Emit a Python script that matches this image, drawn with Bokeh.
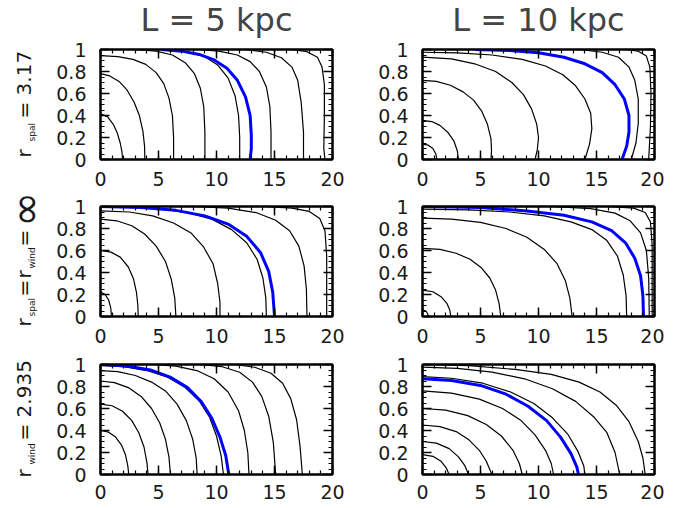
import math
from bokeh.plotting import figure
from bokeh.models import Range1d, FixedTicker, LinearAxis, Label
from bokeh.layouts import row, column
from bokeh.embed import file_html
from bokeh.resources import INLINE

# ---------------- data ----------------
X_TICKS = [0, 5, 10, 15, 20]
X_TICK_LABELS = ["0", "5", "10", "15", "20"]
Y_TICKS = [0, 0.2, 0.4, 0.6, 0.8, 1]
Y_TICK_LABELS = ["0", "0.2", "0.4", "0.6", "0.8", "1"]
COL_TITLES = ["L = 5 kpc", "L = 10 kpc"]

# Panel A: L = 5 kpc, r_spal = 3.17
A_X = [
    [0, 0.6, 1.1, 1.45, 1.7, 1.85, 1.9],
    [0, 0.8, 1.6, 2.3, 2.9, 3.35, 3.65, 3.8, 3.82],
    [0, 1.5, 2.8, 3.9, 4.8, 5.45, 5.9, 6.2, 6.3, 6.3],
    [3.0, 4.8, 6.2, 7.3, 8.1, 8.6, 8.9, 9.0, 9.0],
    [5.2, 7.3, 8.9, 10.1, 11.0, 11.6, 11.9, 12.0, 12.0],
    [8.3, 10.2, 11.8, 12.9, 13.7, 14.3, 14.6, 14.7, 14.7],
    [12.5, 14.3, 15.6, 16.5, 17.0, 17.3, 17.5, 17.5],
    [16.5, 17.8, 18.7, 19.1, 19.3, 19.3, 19.25, 19.35],
]
A_Y = [
    [0.415, 0.39, 0.32, 0.24, 0.15, 0.07, 0.0],
    [0.78, 0.76, 0.71, 0.63, 0.52, 0.40, 0.26, 0.12, 0.0],
    [0.945, 0.935, 0.91, 0.865, 0.79, 0.69, 0.56, 0.40, 0.2, 0.0],
    [1.0, 0.985, 0.95, 0.88, 0.78, 0.65, 0.48, 0.25, 0.0],
    [1.0, 0.98, 0.94, 0.86, 0.74, 0.58, 0.40, 0.2, 0.0],
    [1.0, 0.985, 0.95, 0.89, 0.80, 0.66, 0.48, 0.25, 0.0],
    [1.0, 0.975, 0.925, 0.84, 0.72, 0.52, 0.25, 0.0],
    [1.0, 0.98, 0.93, 0.84, 0.68, 0.4, 0.1, 0.0],
]
A_BLUE_X = [5.26, 7.0, 8.5, 9.8, 10.9, 11.8, 12.5, 12.9, 13.0, 13.0, 12.9]
A_BLUE_Y = [1.0, 0.985, 0.955, 0.905, 0.83, 0.72, 0.57, 0.40, 0.22, 0.1, 0.0]

# Panel B: L = 10 kpc, r_spal = 3.17
B_X = [
    [0, 0.5, 0.9, 1.15, 1.24],
    [0, 0.8, 1.5, 2.2, 2.7, 3.0, 3.1],
    [0, 1.2, 2.4, 3.5, 4.4, 5.1, 5.6, 5.9, 5.95, 5.9],
    [0, 2.5, 4.5, 6.3, 7.7, 8.7, 9.4, 9.85, 10.0, 9.9, 9.7],
    [0, 3.0, 6.0, 8.6, 10.6, 12.1, 13.2, 14.0, 14.5, 14.6, 14.4, 14.0],
    [13.5, 15.5, 16.9, 17.8, 18.3, 18.6, 18.6, 18.4, 18.0],
    [17.5, 18.6, 19.3, 19.6, 19.7, 19.65, 19.5],
]
B_Y = [
    [0.14, 0.13, 0.10, 0.05, 0.0],
    [0.355, 0.345, 0.31, 0.245, 0.17, 0.08, 0.0],
    [0.72, 0.71, 0.675, 0.615, 0.54, 0.44, 0.32, 0.19, 0.08, 0.0],
    [0.93, 0.915, 0.87, 0.80, 0.70, 0.59, 0.46, 0.32, 0.2, 0.09, 0.0],
    [0.975, 0.97, 0.95, 0.91, 0.85, 0.77, 0.67, 0.55, 0.42, 0.28, 0.14, 0.0],
    [1.0, 0.975, 0.93, 0.84, 0.72, 0.55, 0.33, 0.15, 0.0],
    [1.0, 0.985, 0.94, 0.84, 0.6, 0.3, 0.0],
]
B_BLUE_X = [4.5, 7.5, 10.0, 12.2, 14.0, 15.5, 16.6, 17.4, 17.8, 17.8, 17.6, 17.2]
B_BLUE_Y = [1.0, 0.99, 0.97, 0.93, 0.87, 0.79, 0.68, 0.55, 0.40, 0.25, 0.12, 0.0]

# Panel C: L = 5 kpc, r_spal = r_wind = infinity
C_X = [
    [0, 0.4, 0.7, 0.88, 0.95],
    [0, 0.9, 1.7, 2.4, 2.85, 3.1, 3.22, 3.25],
    [0, 1.4, 2.7, 3.8, 4.8, 5.6, 6.1, 6.4, 6.5],
    [0, 2.5, 4.5, 6.3, 7.8, 8.9, 9.7, 10.1, 10.3, 10.3],
    [2.0, 5.0, 7.5, 9.6, 11.3, 12.6, 13.5, 14.0, 14.25, 14.3],
    [8.0, 11.0, 13.4, 15.1, 16.3, 17.1, 17.55, 17.75, 17.8],
    [14.0, 16.5, 18.0, 18.9, 19.35, 19.5, 19.5],
]
C_Y = [
    [0.224, 0.20, 0.15, 0.08, 0.0],
    [0.60, 0.585, 0.54, 0.45, 0.34, 0.22, 0.1, 0.0],
    [0.885, 0.87, 0.825, 0.75, 0.64, 0.50, 0.34, 0.17, 0.0],
    [0.96, 0.95, 0.915, 0.85, 0.76, 0.63, 0.48, 0.30, 0.13, 0.0],
    [1.0, 0.98, 0.945, 0.885, 0.79, 0.67, 0.52, 0.35, 0.17, 0.0],
    [1.0, 0.985, 0.945, 0.875, 0.78, 0.64, 0.46, 0.25, 0.0],
    [1.0, 0.985, 0.955, 0.89, 0.78, 0.55, 0.0],
]
C_BLUE_X = [0, 3.5, 6.5, 9.0, 11.0, 12.6, 13.8, 14.5, 14.85, 15.0]
C_BLUE_Y = [1.0, 0.99, 0.965, 0.915, 0.84, 0.73, 0.58, 0.41, 0.22, 0.0]

# Panel D: L = 10 kpc, r_spal = r_wind = infinity
D_X = [
    [0, 0.3, 0.45, 0.5],
    [0, 0.9, 1.6, 2.1, 2.35, 2.44],
    [0, 1.5, 2.9, 4.1, 5.1, 5.8, 6.3, 6.6, 6.75],
    [0, 2.5, 5.0, 7.2, 9.0, 10.5, 11.6, 12.3, 12.7, 12.9],
    [0, 4.0, 7.5, 10.5, 12.8, 14.6, 15.9, 16.8, 17.3, 17.55, 17.6],
    [11.0, 14.5, 16.6, 17.9, 18.8, 19.3, 19.5, 19.55],
    [16.0, 18.2, 19.2, 19.65, 19.8, 19.8],
]
D_Y = [
    [0.06, 0.05, 0.025, 0.0],
    [0.24, 0.225, 0.18, 0.12, 0.06, 0.0],
    [0.62, 0.61, 0.575, 0.52, 0.44, 0.35, 0.24, 0.12, 0.0],
    [0.894, 0.885, 0.855, 0.80, 0.72, 0.61, 0.48, 0.33, 0.17, 0.0],
    [0.976, 0.97, 0.95, 0.915, 0.86, 0.79, 0.69, 0.55, 0.38, 0.19, 0.0],
    [1.0, 0.98, 0.94, 0.87, 0.76, 0.60, 0.35, 0.0],
    [1.0, 0.985, 0.945, 0.86, 0.65, 0.0],
]
D_BLUE_X = [0, 5.0, 9.0, 12.2, 14.6, 16.3, 17.5, 18.3, 18.8, 19.0, 19.05]
D_BLUE_Y = [1.0, 0.99, 0.96, 0.92, 0.86, 0.78, 0.67, 0.53, 0.37, 0.19, 0.0]

# Panel E: L = 5 kpc, r_wind = 2.935
E_X = [
    [0, 0.7, 1.3, 1.8, 2.15, 2.35, 2.44],
    [0, 1.0, 1.9, 2.7, 3.3, 3.75, 4.0, 4.1],
    [0, 1.2, 2.4, 3.5, 4.4, 5.1, 5.6, 5.9, 6.03],
    [0, 1.5, 3.0, 4.4, 5.6, 6.6, 7.4, 7.95, 8.25, 8.33],
    [0, 2.0, 4.0, 5.8, 7.3, 8.5, 9.4, 10.0, 10.4, 10.6],
    [4.5, 6.5, 8.3, 9.8, 11.0, 11.9, 12.4, 12.7, 12.8],
    [8.5, 10.5, 12.0, 13.1, 13.9, 14.5, 14.9, 15.1],
    [11.5, 13.3, 14.7, 15.7, 16.4, 16.9, 17.2, 17.4],
]
E_Y = [
    [0.40, 0.385, 0.34, 0.27, 0.18, 0.08, 0.0],
    [0.64, 0.625, 0.575, 0.49, 0.38, 0.25, 0.11, 0.0],
    [0.85, 0.835, 0.79, 0.71, 0.60, 0.47, 0.32, 0.16, 0.0],
    [0.945, 0.935, 0.90, 0.84, 0.76, 0.64, 0.49, 0.32, 0.15, 0.0],
    [0.99, 0.98, 0.945, 0.885, 0.79, 0.67, 0.52, 0.35, 0.17, 0.0],
    [1.0, 0.985, 0.945, 0.87, 0.75, 0.58, 0.40, 0.2, 0.0],
    [1.0, 0.98, 0.93, 0.84, 0.71, 0.53, 0.29, 0.0],
    [1.0, 0.975, 0.92, 0.83, 0.69, 0.50, 0.26, 0.0],
]
E_BLUE_X = [0.37, 2.4, 4.3, 6.0, 7.5, 8.7, 9.6, 10.3, 10.8, 11.06]
E_BLUE_Y = [1.0, 0.985, 0.95, 0.885, 0.79, 0.66, 0.51, 0.34, 0.17, 0.0]

# Panel F: L = 10 kpc, r_wind = 2.935
F_X = [
    [0, 0.9, 1.6, 2.05, 2.3],
    [0, 1.2, 2.3, 3.1, 3.65, 3.97],
    [0, 1.5, 2.9, 4.0, 4.9, 5.5, 5.98],
    [0, 2.0, 3.9, 5.5, 6.8, 7.8, 8.35, 8.6],
    [0, 2.5, 4.9, 6.9, 8.5, 9.7, 10.6, 11.1, 11.3],
    [0, 2.5, 5.2, 7.6, 9.6, 11.2, 12.5, 13.4, 13.9, 14.0],
    [0, 3.0, 6.0, 8.8, 11.2, 13.2, 14.8, 15.9, 16.6, 17.0],
    [0, 4.0, 8.0, 11.1, 13.5, 15.3, 16.7, 17.8, 18.6, 19.0, 19.2],
]
F_Y = [
    [0.18, 0.165, 0.12, 0.06, 0.0],
    [0.30, 0.285, 0.235, 0.16, 0.08, 0.0],
    [0.45, 0.435, 0.39, 0.315, 0.22, 0.12, 0.0],
    [0.60, 0.585, 0.535, 0.455, 0.35, 0.22, 0.10, 0.0],
    [0.76, 0.74, 0.685, 0.60, 0.49, 0.36, 0.22, 0.1, 0.0],
    [0.89, 0.875, 0.83, 0.75, 0.645, 0.515, 0.37, 0.21, 0.08, 0.0],
    [0.976, 0.965, 0.93, 0.87, 0.78, 0.665, 0.52, 0.38, 0.2, 0.0],
    [1.0, 0.99, 0.955, 0.91, 0.84, 0.75, 0.63, 0.48, 0.3, 0.15, 0.0],
]
F_BLUE_X = [0, 2.5, 5.0, 7.2, 9.1, 10.7, 11.9, 12.8, 13.3, 13.45]
F_BLUE_Y = [0.87, 0.855, 0.81, 0.73, 0.62, 0.49, 0.34, 0.19, 0.07, 0.0]

# ---------------- styling / layout ----------------
FONT = "DejaVu Sans"
TXT = "#1a1a1a"
FRAME_W, FRAME_H = 232, 110


def style_axis(ax, ticks, labels, minor, show_labels, standoff=0):
    ax.ticker = FixedTicker(ticks=ticks, minor_ticks=minor)
    ax.major_tick_in = 9
    ax.major_tick_out = 0
    ax.minor_tick_in = 4
    ax.minor_tick_out = 0
    ax.major_tick_line_width = 1.5
    ax.minor_tick_line_width = 1.2
    ax.major_tick_line_color = "black"
    ax.minor_tick_line_color = "black"
    ax.axis_line_width = 2
    ax.axis_line_color = "black"
    ax.major_label_standoff = standoff
    if show_labels:
        ax.major_label_overrides = {t: l for t, l in zip(ticks, labels)}
        ax.major_label_text_font = FONT
        ax.major_label_text_font_size = "19px"
        ax.major_label_text_color = TXT
    else:
        ax.major_label_overrides = {t: "" for t in ticks}
        ax.major_label_text_font_size = "1px"


def panel(xs, ys, bx, by, top, bottom, left, right, xstand):
    p = figure(frame_width=FRAME_W, frame_height=FRAME_H,
               x_range=Range1d(0, 20), y_range=Range1d(0, 1),
               output_backend="svg", toolbar_location=None,
               min_border_top=top, min_border_bottom=bottom,
               min_border_left=left, min_border_right=right)
    p.xgrid.visible = False
    p.ygrid.visible = False
    p.outline_line_color = "black"
    p.outline_line_width = 2
    p.background_fill_color = "white"
    p.border_fill_color = "white"
    xminor = list(range(0, 21))
    yminor = [i * 0.05 for i in range(21)]
    style_axis(p.xaxis[0], X_TICKS, X_TICK_LABELS, xminor, True, xstand)
    style_axis(p.yaxis[0], Y_TICKS, Y_TICK_LABELS, yminor, True, 14)
    top_ax = LinearAxis()
    style_axis(top_ax, X_TICKS, X_TICK_LABELS, xminor, False)
    p.add_layout(top_ax, "above")
    right_ax = LinearAxis()
    style_axis(right_ax, Y_TICKS, Y_TICK_LABELS, yminor, False)
    p.add_layout(right_ax, "right")

    p.multi_line(xs=xs, ys=ys, line_color="black", line_width=1.2)
    p.line(bx, by, line_color="#0000ff", line_width=3)
    return p


SIDE_W = 52
LW = 48   # left border, left column
RW = 70   # left border, right column
TITLE_H = 38

pA = panel(A_X, A_Y, A_BLUE_X, A_BLUE_Y, 11, 35, LW, 20, 12)
pB = panel(B_X, B_Y, B_BLUE_X, B_BLUE_Y, 11, 35, RW, 10, 12)
pC = panel(C_X, C_Y, C_BLUE_X, C_BLUE_Y, 12, 36, LW, 20, 12)
pD = panel(D_X, D_Y, D_BLUE_X, D_BLUE_Y, 12, 36, RW, 10, 12)
pE = panel(E_X, E_Y, E_BLUE_X, E_BLUE_Y, 12, 33, LW, 20, 10)
pF = panel(F_X, F_Y, F_BLUE_X, F_BLUE_Y, 12, 33, RW, 10, 10)

GRID_W = (LW + FRAME_W + 20) + (RW + FRAME_W + 10)
H_TOTAL = TITLE_H + (11 + FRAME_H + 35) + (12 + FRAME_H + 36) + (12 + FRAME_H + 33)


def blank(width, height):
    f = figure(width=width, height=height, x_range=Range1d(0, width),
               y_range=Range1d(0, height), output_backend="svg",
               toolbar_location=None, min_border=0)
    f.axis.visible = False
    f.xgrid.visible = False
    f.ygrid.visible = False
    f.outline_line_color = None
    return f


# column titles strip (coordinates are pixels of that strip)
title_strip = blank(GRID_W, TITLE_H)
for cx, t in zip([LW + FRAME_W / 2, LW + FRAME_W + 20 + RW + FRAME_W / 2], COL_TITLES):
    title_strip.add_layout(Label(x=cx, y=TITLE_H - 19, text=t, text_align="center",
                                 text_baseline="middle", text_font=FONT,
                                 text_font_size="32px", text_color="#444444"))

# row labels strip (coordinates are pixels of that strip)
side = blank(SIDE_W, H_TOTAL)


def side_text(x, y_screen, text, size, align="left"):
    side.add_layout(Label(x=x, y=H_TOTAL - y_screen, text=text, angle=math.pi / 2,
                          text_align=align, text_baseline="middle",
                          text_font=FONT, text_font_size=size, text_color=TXT))


MAIN, SUB = "20px", "9px"
XM, XS = 23, 31
# row 1: r_spal = 3.17
side_text(XM, 157, "r", MAIN)
side_text(XS, 141, "spal", SUB)
side_text(XM, 118, "= 3.17", MAIN)
# row 2: r_spal = r_wind = infinity
side_text(XM, 326, "r", MAIN)
side_text(XS, 316, "spal", SUB)
side_text(XM, 296, "=", MAIN)
side_text(XM, 278, "r", MAIN)
side_text(XS, 268, "wind", SUB)
side_text(XM, 246, "=", MAIN)
side_text(25, 209, "\u221e", "42px", "center")
# row 3: r_wind = 2.935
side_text(XM, 477, "r", MAIN)
side_text(XS, 464, "wind", SUB)
side_text(XM, 440, "= 2.935", MAIN)

grid = column(title_strip, row(pA, pB), row(pC, pD), row(pE, pF))
layout = row(side, grid)

open("out.html", "w").write(file_html(layout, INLINE))
